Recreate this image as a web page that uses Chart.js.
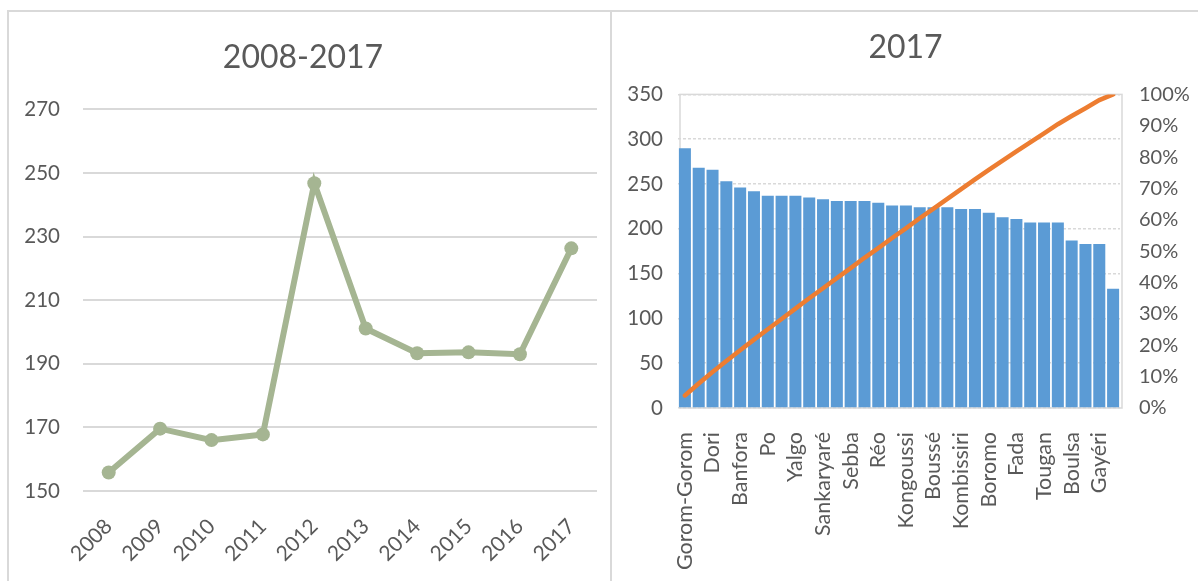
<!DOCTYPE html>
<html>
<head>
<meta charset="utf-8">
<script src="https://cdn.jsdelivr.net/npm/chart.js@4.4.1/dist/chart.umd.min.js"></script>
<style>
  html, body { margin:0; padding:0; background:#ffffff; width:1198px; height:581px; overflow:hidden; }
  #frame { position:absolute; left:7px; top:10px; width:1191px; height:571px; border-top:2px solid #D9D9D9; border-left:2px solid #D9D9D9; box-sizing:border-box; }
  #divider { position:absolute; left:610px; top:10px; width:2px; height:571px; background:#D9D9D9; }
  #c1 { position:absolute; left:9px; top:12px; }
  #c2 { position:absolute; left:613px; top:12px; }
</style>
</head>
<body>
<div id="frame"></div>
<div id="divider"></div>
<canvas id="c1" width="600" height="569"></canvas>
<canvas id="c2" width="585" height="569"></canvas>
<script>
// ---- Left chart data ----
const years = ['2008','2009','2010','2011','2012','2013','2014','2015','2016','2017'];
const yearValues = [155.8, 169.6, 166.0, 167.8, 246.8, 201.1, 193.3, 193.6, 193.0, 226.3];
const leftTicks = [150, 170, 190, 210, 230, 250, 270];

// ---- Right chart data (2017) ----
const cities = ['Gorom-Gorom','','Dori','','Banfora','','Po','','Yalgo','','Sankaryaré','','Sebba','','Réo','',
                'Kongoussi','','Boussé','','Kombissiri','','Boromo','','Fada','','Tougan','','Boulsa','','Gayéri',''];
const cityValues = [290, 268, 266, 253, 246, 242, 237, 237, 237, 235, 233, 231, 231, 231, 229, 226,
                    226, 224, 224, 224, 222, 222, 218, 213, 211, 207, 207, 207, 187, 183, 183, 133];
const cumulativePct = [4.0, 7.8, 11.5, 15.0, 18.4, 21.8, 25.1, 28.4, 31.7, 35.0, 38.2, 41.4, 44.6, 47.9, 51.0, 54.2,
                       57.3, 60.5, 63.6, 66.7, 69.8, 72.9, 75.9, 78.9, 81.8, 84.7, 87.6, 90.5, 93.1, 95.6, 98.2, 100];
const rightTicks = [0, 50, 100, 150, 200, 250, 300, 350];
const pctTicks = [0, 10, 20, 30, 40, 50, 60, 70, 80, 90, 100];

const TXT = '#595959';
const GRID = '#D9D9D9';

function draw() {
  Chart.defaults.font.family = 'Lato, "Open Sans", sans-serif';
  Chart.defaults.color = TXT;

  new Chart(document.getElementById('c1'), {
    type: 'line',
    data: {
      labels: years,
      datasets: [{
        data: yearValues,
        borderColor: '#A5B592',
        backgroundColor: '#A5B592',
        pointBackgroundColor: '#A5B592',
        pointBorderColor: '#A5B592',
        borderWidth: 6,
        pointRadius: 7,
        pointHoverRadius: 7,
        pointBorderWidth: 0,
        tension: 0
      }]
    },
    options: {
      responsive: false,
      animation: false,
      events: [],
      layout: { padding: { left: 0, right: 12, top: 0, bottom: 0 } },
      plugins: {
        legend: { display: false },
        tooltip: { enabled: false },
        title: {
          display: true, text: '2008-2017', color: TXT,
          font: { size: 32, weight: 'normal', lineHeight: 1.2 },
          padding: { top: 26, bottom: 33 }
        }
      },
      scales: {
        x: {
          offset: true,
          grid: { display: false },
          border: { display: false },
          ticks: { color: TXT, font: { size: 21 }, minRotation: 45, maxRotation: 45, padding: 15, autoSkip: false },
          afterFit: (s) => { s.height = 90; }
        },
        y: {
          min: leftTicks[0], max: leftTicks[leftTicks.length - 1],
          afterBuildTicks: (s) => { s.ticks = leftTicks.map(v => ({ value: v })); },
          grid: { color: GRID, lineWidth: 2, drawTicks: false },
          border: { display: false },
          ticks: { color: TXT, font: { size: 20.5 }, padding: 23 },
          afterFit: (s) => { s.width = 74; }
        }
      }
    }
  });

  const boxPlugin = {
    id: 'plotBox',
    beforeDatasetsDraw(chart) {
      const a = chart.chartArea, ctx = chart.ctx;
      ctx.save();
      ctx.strokeStyle = GRID;
      ctx.lineWidth = 1.5;
      ctx.strokeRect(a.left + 2, a.top, a.right - a.left, a.bottom - a.top);
      ctx.restore();
    }
  };

  new Chart(document.getElementById('c2'), {
    type: 'bar',
    data: {
      labels: cities,
      datasets: [
        {
          type: 'line',
          data: cumulativePct,
          yAxisID: 'y1',
          borderColor: '#ED7D31',
          backgroundColor: '#ED7D31',
          borderWidth: 4.5,
          borderCapStyle: 'round',
          pointRadius: 0,
          tension: 0,
          order: 0
        },
        {
          type: 'bar',
          data: cityValues,
          yAxisID: 'y',
          backgroundColor: '#5B9BD5',
          borderWidth: 0,
          barPercentage: 0.87,
          categoryPercentage: 1.0,
          order: 1
        }
      ]
    },
    options: {
      responsive: false,
      animation: false,
      events: [],
      layout: { padding: { left: 0, right: 0, top: 0, bottom: 0 } },
      plugins: {
        legend: { display: false },
        tooltip: { enabled: false },
        title: {
          display: true, text: '2017', color: TXT,
          font: { size: 32, weight: 'normal', lineHeight: 1.2 },
          padding: { top: 16, bottom: 28 }
        }
      },
      scales: {
        x: {
          grid: { display: false },
          border: { display: false },
          ticks: { color: TXT, font: { size: 21.5 }, minRotation: 90, maxRotation: 90, padding: 16, autoSkip: false },
          afterFit: (s) => { s.height = 173; }
        },
        y: {
          position: 'left',
          min: rightTicks[0], max: rightTicks[rightTicks.length - 1],
          afterBuildTicks: (s) => { s.ticks = rightTicks.map(v => ({ value: v })); },
          grid: { color: GRID, lineWidth: 1.5, drawTicks: false },
          border: { display: false, dash: [3, 2] },
          ticks: { color: TXT, font: { size: 20.5 }, padding: 15 },
          afterFit: (s) => { s.width = 65; }
        },
        y1: {
          position: 'right',
          min: pctTicks[0], max: pctTicks[pctTicks.length - 1],
          afterBuildTicks: (s) => { s.ticks = pctTicks.map(v => ({ value: v })); },
          grid: { display: false, drawTicks: false },
          border: { display: false },
          ticks: { color: TXT, font: { size: 20 }, padding: 19, callback: (v) => v + '%' },
          afterFit: (s) => { s.width = 78; }
        }
      }
    },
    plugins: [boxPlugin]
  });
}

if (document.fonts && document.fonts.load) {
  Promise.all([document.fonts.load('20px Lato'), document.fonts.load('32px Lato')]).then(draw, draw);
} else { draw(); }
</script>
</body>
</html>
